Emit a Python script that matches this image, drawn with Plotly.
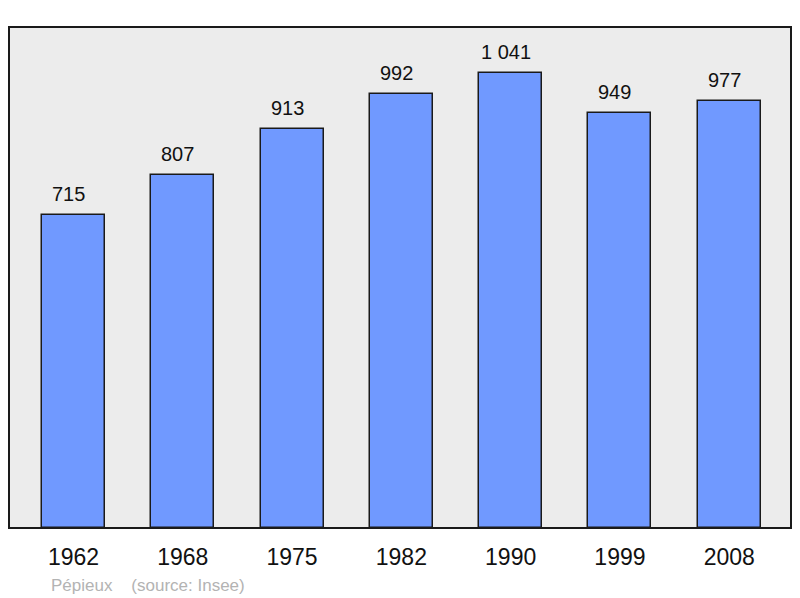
import plotly.graph_objects as go

years = ["1962", "1968", "1975", "1982", "1990", "1999", "2008"]
population = [715, 807, 913, 992, 1041, 949, 977]
value_labels = ["715", "807", "913", "992", "1 041", "949", "977"]
source_text = "Pépieux    (source: Insee)"

x_idx = list(range(len(years)))

# page has an 8px body margin; figure is offset by 8px in the window
FIG_W, FIG_H = 792, 590
ML, MR, MT, MB = 1, 9, 19, 70
PLOT_W = FIG_W - ML - MR
PLOT_H = FIG_H - MT - MB

fig = go.Figure()
fig.add_trace(go.Bar(
    x=x_idx,
    y=population,
    width=0.577,
    marker=dict(color="#7099ff", line=dict(color="#1a1a1a", width=1.5)),
    hoverinfo="skip",
))

for i, (v, t) in enumerate(zip(population, value_labels)):
    fig.add_annotation(
        x=i, y=v, text=t, showarrow=False,
        xref="x", yref="y", yanchor="middle", xanchor="center",
        yshift=21, xshift=-5,
        font=dict(family="Liberation Sans, Arial, sans-serif", size=20, color="#111111"),
    )

fig.add_annotation(
    x=(41 - ML) / PLOT_W, y=-(577 - (MT + PLOT_H)) / PLOT_H,
    xref="paper", yref="paper", text=source_text,
    showarrow=False, xanchor="left", yanchor="middle",
    font=dict(family="Liberation Sans, Arial, sans-serif", size=17, color="#b3b3b3"),
)

fig.add_shape(
    type="rect", xref="paper", yref="paper", x0=0, y0=0, x1=1, y1=1,
    line=dict(color="#1a1a1a", width=2), layer="above",
)

fig.update_layout(
    width=FIG_W, height=FIG_H,
    margin=dict(l=ML, r=MR, t=MT, b=MB),
    paper_bgcolor="white",
    plot_bgcolor="#ececec",
    showlegend=False,
    bargap=0,
    xaxis=dict(
        range=[-0.59, 6.565],
        tickmode="array", tickvals=x_idx, ticktext=years,
        showgrid=False, zeroline=False, showline=False,
        ticks="outside", ticklen=8, tickcolor="rgba(0,0,0,0)",
        tickfont=dict(family="Liberation Sans, Arial, sans-serif", size=23, color="#111111"),
        fixedrange=True,
    ),
    yaxis=dict(
        range=[0, 1146],
        showgrid=False, zeroline=False, showline=False,
        showticklabels=False, ticks="",
        fixedrange=True,
    ),
)

fig.write_html("out.html")
